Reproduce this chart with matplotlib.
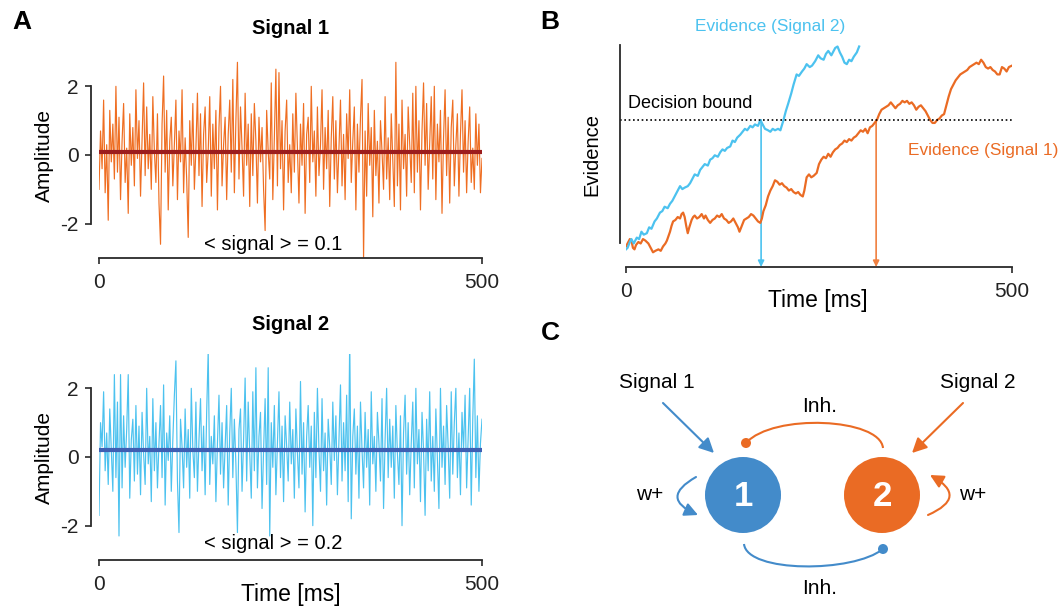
import numpy as np
import matplotlib
matplotlib.use("Agg")
import matplotlib.pyplot as plt
from matplotlib.patches import Circle, FancyArrowPatch, PathPatch
from matplotlib.path import Path

plt.rcParams['font.family'] = ['Liberation Sans', 'DejaVu Sans']
plt.rcParams['axes.unicode_minus'] = False

# ---------------- data ----------------
# panel A: noisy input signals (2 ms samples over 500 ms)
signal1 = [
    -1.0, 0.7, -0.4, 1.6, -1.1, 0.3, -1.9, 1.3, -0.2, 0.9, -0.7, 2.0, -0.5, 1.1, -1.3, 0.4, 1.5, -0.8, 0.2, -1.7, 1.2, -0.3, 0.8, -0.9, 1.9,
    -0.1, 1.0, -1.2, 0.5, 2.1, -0.6, 1.4, -0.4, 0.6, -1.0, 1.7, 0.1, -0.8, 1.2, -1.4, -2.6, 0.9, 2.3, -0.5, 1.3, -1.6, 0.4, 1.1, -0.9, 0.3,
    1.6, -1.3, 0.7, -0.2, 1.9, -1.1, 0.5, -0.7, -2.4, 1.0, -0.3, 1.5, -1.0, 0.2, 1.8, -0.6, 1.2, -1.5, 0.6, 1.4, -0.8, 0.1, 1.7, -1.2, 0.9,
    -0.4, 1.3, -1.6, 0.8, 2.0, -0.9, 0.3, 1.1, -1.3, 0.6, 1.6, -0.5, 2.2, -1.1, 1.0, 2.7, -0.7, 1.4, 0.2, -1.2, 1.8, -0.3, 0.9, -1.5, 1.2,
    -0.6, 1.5, 0.4, -1.4, 1.1, -0.2, 0.8, -1.0, -2.2, 1.3, 0.1, -0.7, 2.1, -1.3, 0.5, 2.5, -0.9, 2.4, -0.4, 1.0, -1.6, 0.7, 1.6, -0.8, 0.3,
    -1.1, 1.2, -0.5, 1.8, 0.2, -1.4, 0.9, -0.3, 1.5, -1.7, 0.6, 1.1, -0.8, 2.0, -0.2, 0.7, -1.2, 1.4, -0.6, 0.3, 1.9, -1.0, 0.8, -0.4, 1.3,
    -1.5, 0.5, 1.7, -0.7, 1.0, -1.1, 0.2, 1.6, -0.9, 0.6, -1.3, 1.2, -0.1, 1.9, -0.8, 0.4, 1.4, -1.6, 0.9, -0.5, 1.1, 2.2, -3.0, 0.7, -1.2,
    1.5, -0.3, 0.8, -1.8, 1.3, -0.6, 0.4, -1.4, 1.0, 0.1, -1.0, 1.7, -0.7, 0.5, -1.3, 1.2, -0.2, -1.5, 2.7, -0.9, 0.9, -1.6, 1.6, -0.4, 0.6,
    -1.2, 1.4, 0.3, -0.8, 1.8, -1.1, 2.0, -0.5, 1.0, -1.6, 0.7, 2.1, -0.3, 1.5, -1.0, 0.4, 1.7, -0.7, 2.0, -1.3, 0.9, -0.2, 1.3, -1.7, 0.5,
    1.9, -0.6, 1.1, -1.4, 0.8, 1.6, -0.9, 0.3, 1.2, -1.2, 0.6, 1.9, -0.5, 1.0, -1.1, 0.4, 1.4, -0.8, 0.2, -1.0, 1.2, -0.3, 0.9, -1.1, -0.1,
]
signal2 = [
    -1.7, 1.0, 0.3, 1.9, -0.4, 0.7, -0.8, 1.4, 0.2, -1.0, 2.4, -0.6, 1.6, -2.3, 2.4, -0.9, 1.2, -0.3, 0.8, 2.4, -1.2, 0.5, 1.1, -0.7, 1.5,
    -0.5, 0.9, -1.1, 1.3, 0.1, -0.8, 2.0, -0.2, 0.6, -1.3, 1.7, -0.4, 1.0, -0.9, 0.4, 1.5, -0.6, 2.1, -1.4, 0.7, -0.1, 1.2, -1.0, 0.5, 1.8,
    2.8, -0.7, -2.2, 1.1, 0.3, -0.9, 1.4, -0.3, 0.8, -1.2, 2.0, 0.2, -0.6, 1.6, -1.0, 0.5, 1.7, -0.4, 0.9, -1.1, 1.3, 3.1, -0.8, 0.6, -0.2,
    1.2, -1.3, 0.4, 1.8, -0.5, 1.0, -0.9, 0.3, 1.5, -1.4, 0.7, 2.0, -0.6, 1.1, -0.2, -2.2, 0.8, 1.4, -1.0, 0.5, 2.3, -0.7, 1.6, 0.1, -1.2,
    1.9, -0.4, 2.6, -0.9, 0.6, 1.3, -1.5, 0.2, 1.7, -0.8, 2.6, -2.3, 1.0, -0.3, 1.5, -1.1, 0.4, 1.9, -0.6, 0.9, -1.3, 1.2, 0.3, -0.7, 1.6,
    -0.2, 0.8, -1.2, 1.4, 0.1, -0.9, 2.2, -0.5, 1.0, -1.6, 0.6, 1.5, -0.3, 0.9, -2.0, 1.3, -0.6, 2.0, 0.2, -1.0, 1.7, -0.4, 0.7, -1.4, 1.1,
    0.3, -0.8, 1.6, -0.1, 1.2, -1.1, 0.5, 2.1, -0.7, 1.0, -0.4, 1.8, -1.3, 3.5, -1.8, 0.6, 1.4, -0.5, 0.9, -1.2, 1.6, 0.2, -0.9, 1.3, -0.3,
    0.8, -1.4, 1.9, -0.2, 0.6, -1.0, 1.3, 0.4, -0.7, 1.7, -1.5, 0.5, 2.0, -0.6, 1.1, -0.3, 0.9, -1.2, 1.5, 0.1, -0.8, 1.2, -2.0, 0.7, 1.8,
    -0.5, 1.0, -1.1, 0.4, 1.6, -0.9, 2.0, -0.2, 0.8, -1.3, 1.3, 0.2, -1.7, 1.1, -0.4, 1.9, -0.7, 0.6, -1.0, 1.4, 0.0, -1.5, 2.0, -0.3, 0.9,
    -0.8, 1.5, 0.3, -1.2, 1.9, -0.5, 1.0, 2.0, -0.6, 0.7, -1.1, 1.3, 0.2, 1.8, -0.9, 0.5, 2.0, -1.4, 1.1, 2.85, -0.6, 1.2, -1.0, 0.4, 1.1,
]
mean1 = 0.1
mean2 = 0.2

# panel B: accumulated evidence (time in ms, evidence with bound = 100)
bound = 100
evidence2 = [(0, 12), (2, 13), (5, 17), (7, 19), (10, 16), (14, 20), (17, 19), (20, 24), (23, 22), (27, 23),
             (30, 27), (33, 26), (37, 31), (40, 33), (44, 37), (47, 38), (50, 41), (54, 40), (57, 43), (60, 45),
             (63, 48), (67, 52), (70, 55), (73, 53), (76, 54), (80, 55), (83, 57), (86, 60), (89, 63), (93, 62),
             (96, 66), (99, 68), (102, 70), (106, 69), (109, 73), (112, 74), (115, 76), (119, 75), (122, 78), (125, 80),
             (128, 79), (131, 81), (135, 82), (138, 86), (141, 85), (144, 88), (148, 90), (151, 92), (154, 94), (157, 93),
             (161, 96), (164, 95), (167, 97), (171, 96), (174, 100), (177, 97), (180, 94), (184, 93), (187, 92), (190, 94),
             (193, 93), (197, 94), (200, 93), (204, 100), (207, 106), (210, 111), (214, 118), (217, 124), (221, 131), (224, 130),
             (228, 133), (231, 135), (234, 138), (238, 136), (241, 137), (245, 140), (249, 144), (252, 142), (256, 141), (259, 145),
             (262, 147), (266, 144), (269, 147), (271, 149), (274, 150), (277, 146), (280, 143), (283, 139), (286, 138), (289, 141),
             (292, 140), (295, 143), (299, 146), (302, 150)]
evidence1 = [(0, 14), (2, 16), (5, 19), (7, 18), (9, 13), (11, 12), (13, 15), (16, 17), (19, 16), (22, 19), (25, 18),
             (29, 16), (32, 13), (35, 10), (38, 11), (42, 12), (45, 11), (48, 14), (51, 16), (53, 18), (55, 21), (57, 24),
             (59, 28), (61, 31), (64, 32), (67, 34), (70, 33), (72, 36), (74, 37), (76, 34), (78, 28), (80, 23), (82, 27),
             (85, 32), (87, 34), (89, 35), (92, 33), (95, 34), (98, 36), (101, 33), (103, 35), (106, 32), (109, 30), (112, 32),
             (115, 33), (118, 35), (121, 34), (124, 36), (127, 33), (130, 32), (133, 30), (136, 31), (139, 33), (142, 30),
             (145, 27), (147, 24), (150, 28), (153, 32), (156, 33), (159, 34), (162, 36), (165, 35), (168, 33), (171, 31),
             (174, 30), (176, 33), (178, 38), (181, 42), (184, 48), (187, 52), (190, 55), (193, 59), (196, 58), (199, 56),
             (202, 57), (205, 55), (208, 54), (211, 52), (214, 53), (217, 51), (220, 50), (223, 51), (226, 49), (229, 48),
             (231, 52), (234, 61), (237, 63), (240, 61), (243, 62), (247, 64), (250, 70), (253, 73), (256, 75), (259, 74),
             (262, 77), (265, 75), (268, 78), (271, 80), (274, 81), (277, 83), (280, 84), (283, 86), (286, 85), (289, 87),
             (292, 86), (295, 88), (298, 89), (301, 91), (304, 93), (307, 92), (310, 94), (313, 91), (316, 95), (319, 96),
             (322, 98), (325, 100), (328, 104), (331, 107), (334, 108), (337, 109), (340, 110), (343, 112), (346, 110),
             (349, 108), (352, 110), (355, 111), (358, 113), (361, 112), (364, 113), (367, 111), (370, 112), (373, 110),
             (376, 107), (379, 109), (382, 110), (385, 108), (388, 106), (391, 103), (394, 100), (397, 98), (400, 98),
             (403, 100), (406, 101), (409, 103), (412, 104), (415, 110), (418, 116), (421, 121), (424, 124), (427, 127),
             (430, 129), (433, 131), (436, 132), (439, 133), (442, 134), (445, 136), (448, 137), (451, 138), (454, 139),
             (457, 138), (460, 141), (463, 139), (466, 136), (469, 135), (472, 136), (475, 134), (478, 133), (481, 131),
             (484, 131), (487, 136), (490, 135), (493, 133), (496, 136), (500, 137)]
decision_t2 = 175   # signal 2 crosses bound
decision_t1 = 324   # signal 1 crosses bound

# colours
ORANGE = '#ef6e22'
LBLUE = '#4cc2ef'
DARKRED = '#9c1d1d'
DARKBLUE = '#3f5fb3'
NODE_BLUE = '#438bca'
NODE_ORANGE = '#ea6b24'
AXC = '#2a2a2a'

fig = plt.figure(figsize=(10.64, 6.07), dpi=100)
W, H = 1064, 607


def rect(x0, y0, x1, y1):
    # pixel box (top-left origin) -> figure fraction rect
    return [x0 / W, (H - y1) / H, (x1 - x0) / W, (y1 - y0) / H]


def style(ax, left_bounds, left_off, yticks):
    for s in ['top', 'right']:
        ax.spines[s].set_visible(False)
    for s in ['left', 'bottom']:
        ax.spines[s].set_color(AXC)
        ax.spines[s].set_linewidth(1.3)
    ax.spines['left'].set_position(('outward', left_off))
    ax.spines['left'].set_bounds(*left_bounds)
    ax.spines['bottom'].set_bounds(0, 500)
    ax.set_xticks([0, 500])
    ax.set_yticks(yticks)
    ax.tick_params(axis='both', direction='out', length=4, width=1.2, colors=AXC,
                   labelsize=15, labelcolor='#222222')
    ax.tick_params(axis='x', pad=7)
    ax.tick_params(axis='y', pad=5)
    ax.set_facecolor('none')


# ---------------- panel A ----------------
t1 = np.linspace(0, 500, len(signal1))
t2 = np.linspace(0, 500, len(signal2))

axA1 = fig.add_axes(rect(99, 52, 482, 258))
axA1.plot(t1, signal1, color=ORANGE, lw=0.85)
axA1.plot([0, 500], [mean1, mean1], color=DARKRED, lw=3)
axA1.set_xlim(0, 500)
axA1.set_ylim(-3, 3)
style(axA1, (-2, 2), 5.8, [-2, 0, 2])
axA1.text(228, -2.62, '< signal > = 0.1', ha='center', va='center', fontsize=14.5)

axA2 = fig.add_axes(rect(99, 354, 482, 560))
axA2.plot(t2, signal2, color=LBLUE, lw=0.85)
axA2.plot([0, 500], [mean2, mean2], color=DARKBLUE, lw=3)
axA2.set_xlim(0, 500)
axA2.set_ylim(-3, 3)
style(axA2, (-2, 2), 5.8, [-2, 0, 2])
axA2.text(228, -2.52, '< signal > = 0.2', ha='center', va='center', fontsize=14.5)

# ---------------- panel B ----------------
b2 = np.array(evidence2, dtype=float)
b1 = np.array(evidence1, dtype=float)

axB = fig.add_axes(rect(626, 267 - 152 * 1.47, 1012, 267))
axB.plot(b1[:, 0], b1[:, 1], color=NODE_ORANGE, lw=1.6)
axB.plot(b2[:, 0], b2[:, 1], color=LBLUE, lw=1.6)
axB.plot([-8, 500], [bound, bound], color='black', lw=1.2, ls=(0, (1, 1.6)), clip_on=False)
for tdec, col in [(decision_t2, LBLUE), (decision_t1, '#f08040')]:
    axB.add_patch(FancyArrowPatch((tdec, bound), (tdec, 0), arrowstyle='-|>', mutation_scale=9,
                                  color=col, lw=1.2, shrinkA=0, shrinkB=0, clip_on=False))
axB.set_xlim(0, 500)
axB.set_ylim(0, 152)
style(axB, (16, 151), 4.3, [])
axB.tick_params(axis='y', length=0)
axB.text(3, 111, 'Decision bound', ha='left', va='center', fontsize=13)

# ---------------- overlay: labels and panel C ----------------
ov = fig.add_axes([0, 0, 1, 1], zorder=5)
ov.set_xlim(0, W)
ov.set_ylim(H, 0)
ov.axis('off')
ov.patch.set_alpha(0)

for lab, x, y in [('A', 22, 22), ('B', 550, 22), ('C', 550, 333)]:
    ov.text(x, y, lab, fontsize=19, fontweight='bold', ha='center', va='center')

ov.text(291, 29, 'Signal 1', fontsize=14.5, fontweight='bold', ha='center', va='center')
ov.text(291, 325, 'Signal 2', fontsize=14.5, fontweight='bold', ha='center', va='center')
ov.text(44, 155, 'Amplitude', fontsize=15, rotation=90, ha='center', va='center')
ov.text(44, 457, 'Amplitude', fontsize=15, rotation=90, ha='center', va='center')
ov.text(291, 594, 'Time [ms]', fontsize=16.5, ha='center', va='center')
ov.text(592, 155, 'Evidence', fontsize=14.5, rotation=90, ha='center', va='center')
ov.text(818, 301, 'Time [ms]', fontsize=16.5, ha='center', va='center')
ov.text(770, 26, 'Evidence (Signal 2)', fontsize=12.4, color=LBLUE, ha='center', va='center')
ov.text(983, 151, 'Evidence (Signal 1)', fontsize=12.4, color=NODE_ORANGE, ha='center', va='center')

# panel C: two competing populations
nodes = {'1': (743, 495, NODE_BLUE), '2': (882, 495, NODE_ORANGE)}
for name, (cx, cy, col) in nodes.items():
    ov.add_patch(Circle((cx, cy), 38, color=col, lw=0))
    ov.text(cx, cy + 1, name, color='white', fontsize=25, fontweight='bold', ha='center', va='center')

ov.text(657, 382, 'Signal 1', fontsize=15, ha='center', va='center')
ov.text(978, 382, 'Signal 2', fontsize=15, ha='center', va='center')
ov.text(820, 407, 'Inh.', fontsize=15, ha='center', va='center')
ov.text(820, 589, 'Inh.', fontsize=15, ha='center', va='center')
ov.text(650, 495, 'w+', fontsize=15, ha='center', va='center')
ov.text(973, 495, 'w+', fontsize=15, ha='center', va='center')

# inputs
ov.add_patch(FancyArrowPatch((663, 403), (714, 453), arrowstyle='-|>', mutation_scale=22,
                             color=NODE_BLUE, lw=1.5, shrinkA=0, shrinkB=0))
ov.add_patch(FancyArrowPatch((963, 403), (912, 453), arrowstyle='-|>', mutation_scale=22,
                             color=NODE_ORANGE, lw=1.5, shrinkA=0, shrinkB=0))

# self excitation loops
ov.add_patch(FancyArrowPatch((696, 477), (698, 515), arrowstyle='-|>', mutation_scale=20,
                             connectionstyle='arc3,rad=1.0', color=NODE_BLUE, lw=1.5, shrinkA=0, shrinkB=0))
ov.add_patch(FancyArrowPatch((928, 515), (930, 475), arrowstyle='-|>', mutation_scale=20,
                             connectionstyle='arc3,rad=1.0', color=NODE_ORANGE, lw=1.5, shrinkA=0, shrinkB=0))

# mutual inhibition
top = Path([(883, 448), (880, 418), (773, 413), (746, 443)], [Path.MOVETO, Path.CURVE4, Path.CURVE4, Path.CURVE4])
ov.add_patch(PathPatch(top, fill=False, edgecolor=NODE_ORANGE, lw=1.5))
ov.add_patch(Circle((746, 443), 5, color=NODE_ORANGE, lw=0))
bot = Path([(744, 544), (747, 573), (853, 573), (883, 549)], [Path.MOVETO, Path.CURVE4, Path.CURVE4, Path.CURVE4])
ov.add_patch(PathPatch(bot, fill=False, edgecolor=NODE_BLUE, lw=1.5))
ov.add_patch(Circle((883, 549), 5, color=NODE_BLUE, lw=0))

fig.savefig('out.png', dpi=100)
